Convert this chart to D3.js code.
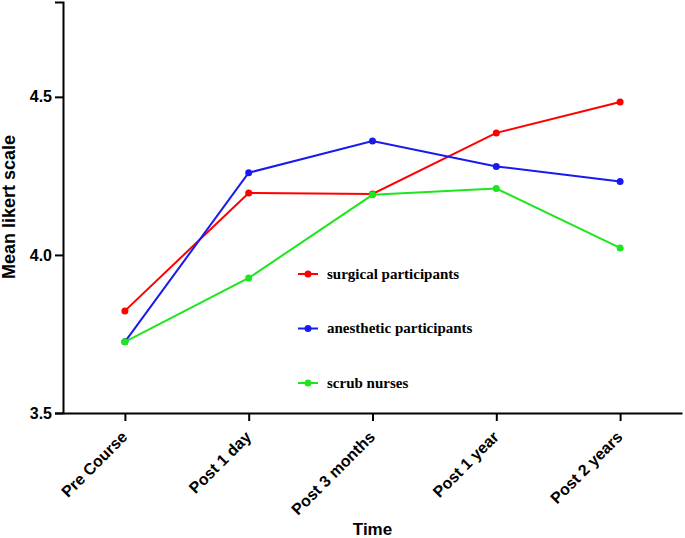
<!DOCTYPE html>
<html><head><meta charset="utf-8">
<script src="https://cdn.jsdelivr.net/npm/d3@7"></script>
<style>body{margin:0;background:#fff}svg{display:block}</style>
</head><body>
<svg id="c" width="685" height="538"></svg>
<script>
const categories = ["Pre Course","Post 1 day","Post 3 months","Post 1 year","Post 2 years"];
const surgical   = [3.823, 4.196, 4.193, 4.386, 4.484];
const anesthetic = [3.725, 4.260, 4.360, 4.280, 4.232];
const scrub      = [3.725, 3.927, 4.190, 4.210, 4.022];
const seriesNames = ["surgical participants","anesthetic participants","scrub nurses"];
const yTicks = [3.5, 4.0, 4.5];

const colors = ["#ff0000","#1a1aee","#1ee61e"];
const seriesVals = [surgical, anesthetic, scrub];

const svg = d3.select("#c");
const x = d3.scalePoint().domain(categories).range([63, 682]).padding(0.5);
const y = d3.scaleLinear().domain([3.5, 4.8]).range([413, 2]);

// Y axis
const ya = svg.append("g").attr("transform","translate(63,0)")
  .call(d3.axisLeft(y).tickValues(yTicks).tickFormat(d3.format(".1f")).tickSize(8).tickPadding(3));
ya.select(".domain").attr("stroke","#000").attr("stroke-width",2);
ya.selectAll(".tick line").attr("stroke","#000").attr("stroke-width",2);
ya.selectAll(".tick text").attr("font-family","Liberation Sans, Arial, sans-serif")
  .attr("font-weight","bold").attr("font-size",16).attr("fill","#000");

// X axis
const xa = svg.append("g").attr("transform","translate(0,413)")
  .call(d3.axisBottom(x).tickSize(8).tickSizeOuter(0));
xa.select(".domain").attr("stroke","#000").attr("stroke-width",2);
xa.selectAll(".tick line").attr("stroke","#000").attr("stroke-width",2);
xa.selectAll(".tick text").attr("font-family","Liberation Sans, Arial, sans-serif")
  .attr("font-weight","bold").attr("font-size",16).attr("fill","#000")
  .attr("text-anchor","end").attr("dy",null).attr("y",null)
  .attr("transform","translate(3,25) rotate(-45)");

// Axis titles
svg.append("text").attr("x",372.5).attr("y",535).attr("text-anchor","middle")
  .attr("font-family","Liberation Sans, Arial, sans-serif").attr("font-weight","bold")
  .attr("font-size",17).text("Time");
svg.append("text").attr("transform","translate(15,207) rotate(-90)").attr("text-anchor","middle")
  .attr("font-family","Liberation Sans, Arial, sans-serif").attr("font-weight","bold")
  .attr("font-size",18).text("Mean likert scale");

// Lines
const line = d3.line().x((d,i)=>x(categories[i])).y(d=>y(d));
seriesVals.forEach((vals, si) => {
  svg.append("path").datum(vals).attr("d", line).attr("fill","none")
    .attr("stroke", colors[si]).attr("stroke-width", 2);
  svg.selectAll(null).data(vals).enter().append("circle")
    .attr("cx",(d,i)=>x(categories[i])).attr("cy",d=>y(d)).attr("r",3.5).attr("fill",colors[si]);
});

// Legend
const lg = svg.append("g");
seriesNames.forEach((n, i) => {
  const ly = 274 + i*54.5;
  lg.append("line").attr("x1",298).attr("x2",318).attr("y1",ly).attr("y2",ly)
    .attr("stroke",colors[i]).attr("stroke-width",2);
  lg.append("circle").attr("cx",308).attr("cy",ly).attr("r",3.5).attr("fill",colors[i]);
  lg.append("text").attr("x",327).attr("y",ly+4.5)
    .attr("font-family","Liberation Serif, Times New Roman, serif").attr("font-weight","bold")
    .attr("font-size",15).attr("fill","#000").text(n);
});
</script>
</body></html>
